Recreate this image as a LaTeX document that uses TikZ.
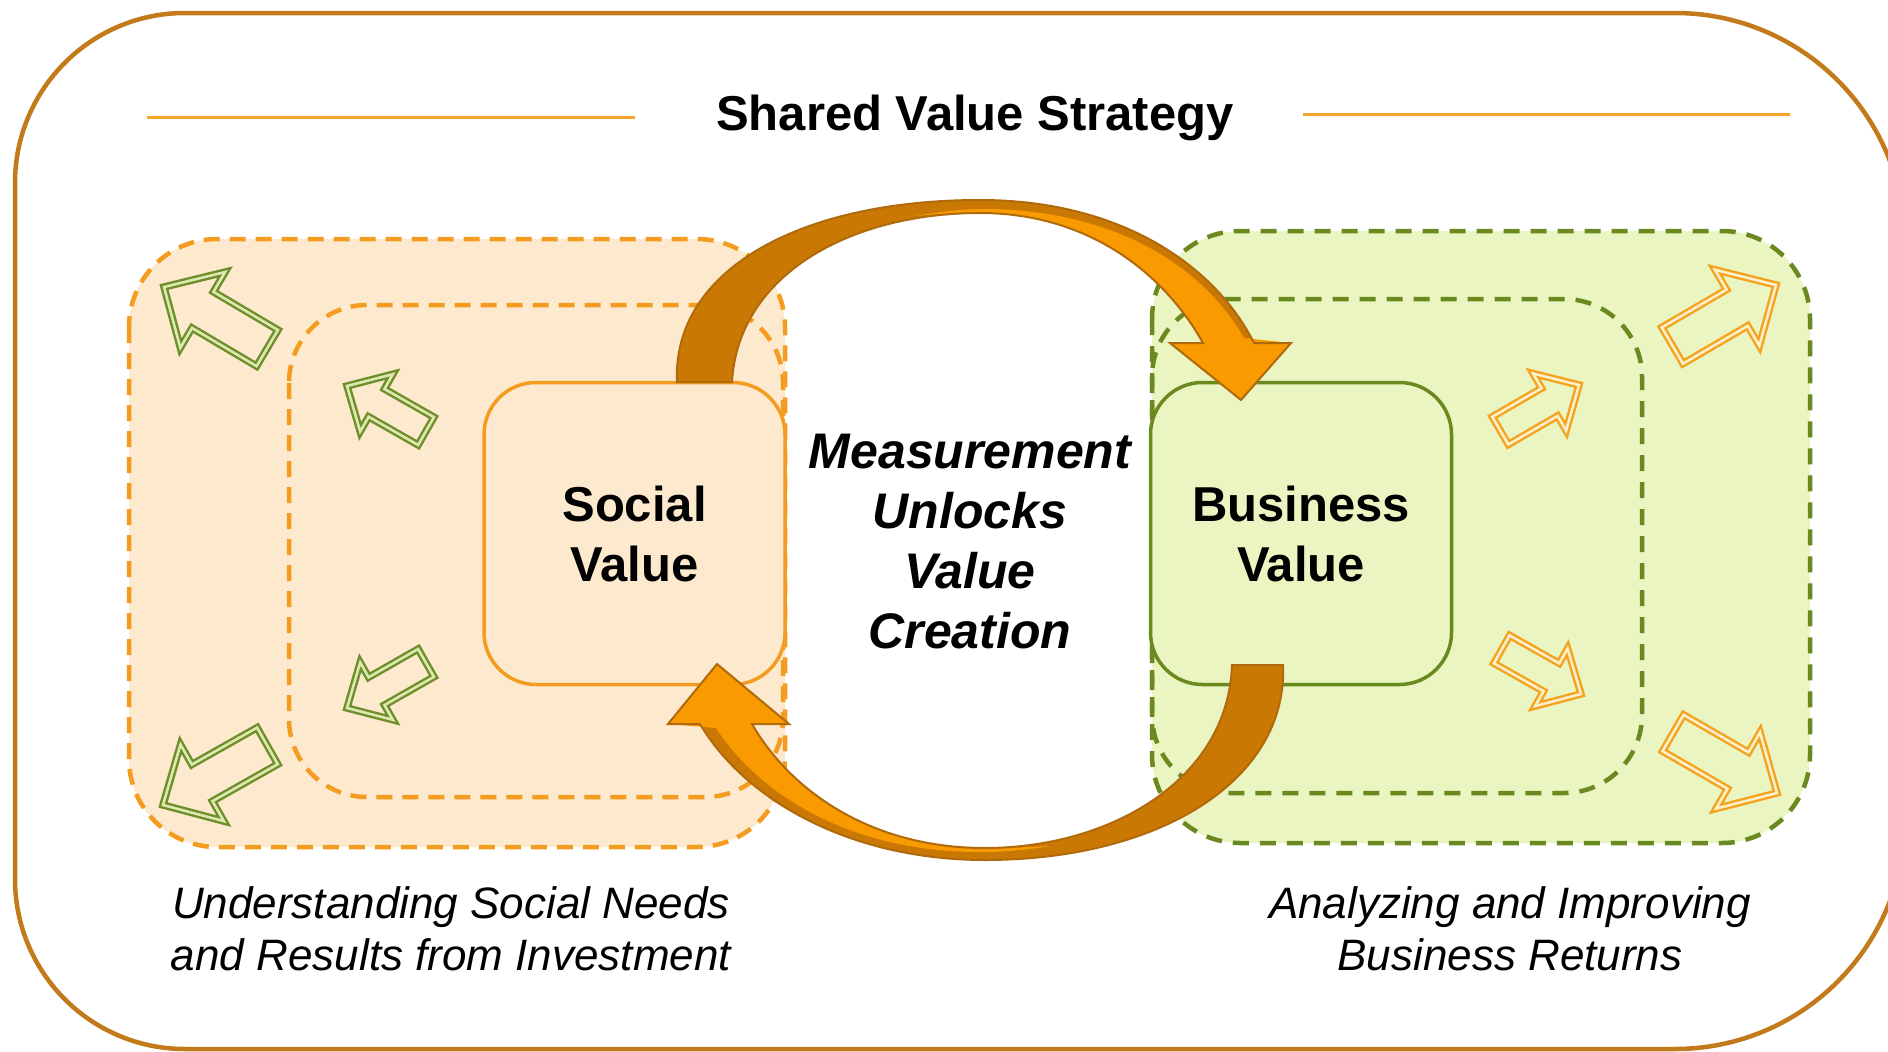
\documentclass[tikz,border=0pt]{standalone}
\usepackage{fontspec}
\setmainfont{Liberation Sans}
\definecolor{frameC}{HTML}{C27A1A}
\definecolor{ruleC}{HTML}{F5A32A}
\definecolor{socFill}{HTML}{FDE9CD}
\definecolor{socLine}{HTML}{F39C1F}
\definecolor{busFill}{HTML}{EAF5C1}
\definecolor{busLine}{HTML}{6A8A1F}
\definecolor{leafLine}{HTML}{6E8E2A}
\definecolor{leafGap}{HTML}{DCE8B0}
\definecolor{amberLine}{HTML}{F5A21E}
\definecolor{amberGap}{HTML}{FDF0C8}
\definecolor{flowDark}{HTML}{C97903}
\definecolor{flowLight}{HTML}{F99A00}
\definecolor{flowEdge}{HTML}{B06A0C}
\begin{document}
\begin{tikzpicture}[x=1pt,y=-1pt,line join=miter,
  frame/.style={draw=frameC,line width=4.5pt},
  rule/.style={draw=ruleC,line width=3pt},
  socdash/.style={draw=socLine,line width=4.5pt,dash pattern=on 16pt off 10pt},
  busdash/.style={draw=busLine,line width=4.5pt,dash pattern=on 16pt off 11pt},
  valuebox/.style={minimum width=301pt,minimum height=302pt,rounded corners=52pt,
    line width=3.5pt,inner sep=0pt,align=center,font=\fontsize{49}{60}\selectfont\bfseries},
  leafarrow/.style={draw=leafLine,line width=2.4pt,double=leafGap,double distance=2.6pt},
  amberarrow/.style={draw=amberLine,line width=2.4pt,double=amberGap,double distance=2.6pt},
  flowedge/.style={draw=flowEdge,line width=2pt},
  pics/bigarr/.style={code={\path[pic actions] (0,0) -- (-45,-44) -- (-45,-21) -- (-120,-21)
      -- (-120,21) -- (-45,21) -- (-45,44) -- cycle;}},
  pics/smallarr/.style={code={\path[pic actions] (0,0) -- (-34,-33) -- (-34,-16) -- (-91,-16)
      -- (-91,16) -- (-34,16) -- (-34,33) -- cycle;}},
]
\useasboundingbox (0,0) rectangle (1888,1052);
\fill[white] (0,0) rectangle (1888,1052);

% outer frame
\draw[frame] (15,600) [rounded corners=170pt] -- (15,13) [rounded corners=230pt] -- (1905,13)
  -- (1905,1049) [rounded corners=170pt] -- (15,1049) -- cycle;

% title with rules
\node[font=\fontsize{49}{59}\selectfont\bfseries,anchor=base] (title) at (975,130) {Shared Value Strategy};
\draw[rule] (147,117) -- (635,117);
\draw[rule] (1303,114) -- (1790,114);

% social side regions
\fill[socFill,rounded corners=88pt] (129,239) rectangle (785,847);
\draw[socdash,rounded corners=88pt] (129,239) rectangle (785,847);
\draw[socdash,rounded corners=78pt] (289,305) rectangle (783,797);

% business side regions
\fill[busFill,rounded corners=88pt] (1152,231) rectangle (1810,843);
\draw[busdash,rounded corners=88pt] (1152,231) rectangle (1810,843);
\draw[busdash,rounded corners=78pt] (1152,299) rectangle (1642,793);

% value boxes
\node[valuebox,draw=socLine,fill=socFill] (social) at (634.5,533.5) {Social\\Value};
\node[valuebox,draw=busLine,fill=busFill] (business) at (1301,533.5) {Business\\Value};

% outward arrows, social side
\pic[leafarrow,rotate=149.4] at (164,287) {bigarr};
\pic[leafarrow,rotate=150.3] at (347,386) {smallarr};
\pic[leafarrow,rotate=209.7] at (347,708) {smallarr};
\pic[leafarrow,rotate=209.5] at (163,805) {bigarr};

% outward arrows, business side
\pic[amberarrow,rotate=30.3] at (1776,285) {bigarr};
\pic[amberarrow,rotate=30.1] at (1579,385) {smallarr};
\pic[amberarrow,rotate=-29.4] at (1581,694) {smallarr};
\pic[amberarrow,rotate=-30.0] at (1777,793) {bigarr};

% upper flow arrow: social -> business
\fill[flowDark] (677,382) .. controls (672,270) and (800,200) .. (980,200)
  .. controls (1120,200) and (1215,265) .. (1254,343) -- (1203,343)
  .. controls (1165,275) and (1090,213) .. (980,213)
  .. controls (850,213) and (738,275) .. (732,382) -- cycle;
\fill[flowLight] (915,216) .. controls (945,211) and (965,209) .. (985,209)
  .. controls (1120,210) and (1205,270) .. (1244,338) -- (1291,343) -- (1241,400)
  -- (1170,343) -- (1203,343) .. controls (1165,275) and (1090,213) .. (980,213)
  .. controls (955,213) and (935,214) .. (915,216) -- cycle;
\draw[flowedge] (677,382) .. controls (672,270) and (800,200) .. (980,200)
  .. controls (1120,200) and (1215,265) .. (1254,343) -- (1291,343) -- (1241,400)
  -- (1170,343) -- (1203,343) .. controls (1165,275) and (1090,213) .. (980,213)
  .. controls (850,213) and (738,275) .. (732,382) -- cycle;

% lower flow arrow: business -> social
\fill[flowDark] (1283,665) .. controls (1288,780) and (1160,860) .. (985,860)
  .. controls (850,860) and (745,800) .. (700,724) -- (752,724)
  .. controls (790,790) and (870,848) .. (985,848)
  .. controls (1110,848) and (1228,780) .. (1232,665) -- cycle;
\fill[flowLight] (1050,846) .. controls (1020,851) and (1000,852) .. (980,852)
  .. controls (850,852) and (760,795) .. (716,728) -- (668,724) -- (717,664)
  -- (789,724) -- (752,724) .. controls (790,790) and (870,848) .. (985,848)
  .. controls (1010,848) and (1030,847) .. (1050,846) -- cycle;
\draw[flowedge] (1283,665) .. controls (1288,780) and (1160,860) .. (985,860)
  .. controls (850,860) and (745,800) .. (700,724) -- (668,724) -- (717,664)
  -- (789,724) -- (752,724) .. controls (790,790) and (870,848) .. (985,848)
  .. controls (1110,848) and (1228,780) .. (1232,665) -- cycle;

% centre statement
\node[font=\fontsize{50}{60}\selectfont\bfseries\itshape,align=center] (measure) at (970,542)
  {Measurement\\Unlocks\\Value\\Creation};

% captions
\node[font=\fontsize{44}{52}\selectfont\itshape,align=center] (capL) at (451,929)
  {Understanding Social Needs\\and Results from Investment};
\node[font=\fontsize{44}{52}\selectfont\itshape,align=center] (capR) at (1510,929)
  {Analyzing and Improving\\Business Returns};
\end{tikzpicture}
\end{document}
